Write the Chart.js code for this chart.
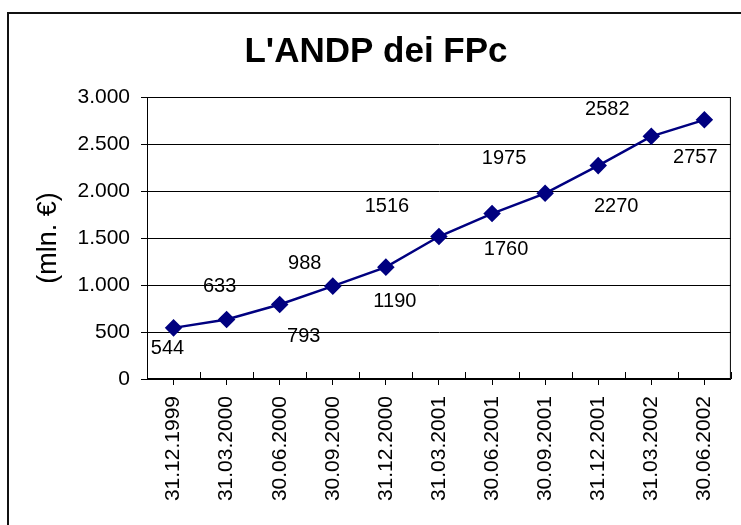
<!DOCTYPE html>
<html>
<head>
<meta charset="utf-8">
<script src="https://cdn.jsdelivr.net/npm/chart.js@4.4.1/dist/chart.umd.min.js"></script>
<style>
  html, body { margin: 0; padding: 0; background: #fff; }
  #wrap { width: 741px; height: 525px; position: relative; }
</style>
</head>
<body>
<div id="wrap"><canvas id="andpChart"></canvas></div>
<script>
// Dati
const dates = ['31.12.1999', '31.03.2000', '30.06.2000', '30.09.2000', '31.12.2000', '31.03.2001',
               '30.06.2001', '30.09.2001', '31.12.2001', '31.03.2002', '30.06.2002'];
const andp = [544, 633, 793, 988, 1190, 1516, 1760, 1975, 2270, 2582, 2757];
const yMin = 0;
const yMax = 3000;
const yStep = 500;

// where each value label sits relative to its marker (px), as in the original
const labelShift = [[-6, 21], [-7, -33], [24, 32], [-28, -23], [9, 34], [-52, -30],
                    [14, 36], [-41, -35], [18, 41], [-44, -27], [-9, 38]];

const FONT = "'Liberation Sans', Arial, sans-serif";
const NAVY = '#000080';

function fmtThousands(v) {
    return String(v).replace(/\B(?=(\d{3})+(?!\d))/g, '.');
}

const decor = {
    id: 'decor',
    beforeDatasetsDraw(chart) {
        const {ctx, chartArea: a, scales: {x}} = chart;
        ctx.save();
        ctx.strokeStyle = '#000';
        ctx.lineWidth = 1;
        ctx.strokeRect(a.left + 0.5, a.top + 0.5, a.width - 1, a.height - 1);
        // small ticks between categories, pointing up into the plot
        ctx.beginPath();
        for (let i = 0; i <= dates.length; i++) {
            const px = Math.round(x.getPixelForValue(i - 0.5)) + 0.5;
            ctx.moveTo(px, a.bottom);
            ctx.lineTo(px, a.bottom - 7);
        }
        ctx.stroke();
        ctx.restore();
    },
    afterDatasetsDraw(chart) {
        const {ctx} = chart;
        const meta = chart.getDatasetMeta(0);
        ctx.save();
        ctx.fillStyle = '#000';
        ctx.font = '20px ' + FONT;
        ctx.textAlign = 'center';
        ctx.textBaseline = 'middle';
        meta.data.forEach((pt, i) => {
            const s = labelShift[i] || [0, -20];
            ctx.fillText(String(andp[i]), pt.x + s[0], pt.y + s[1]);
        });
        ctx.restore();
    },
    afterDraw(chart) {
        // outer chart frame (top and left edges visible)
        const {ctx} = chart;
        ctx.save();
        ctx.strokeStyle = '#111';
        ctx.lineWidth = 2;
        ctx.strokeRect(8, 13, 800, 600);
        ctx.restore();
    }
};

const ctx = document.getElementById('andpChart').getContext('2d');
new Chart(ctx, {
    type: 'line',
    data: {
        labels: dates,
        datasets: [{
            label: 'ANDP',
            data: andp,
            borderColor: NAVY,
            backgroundColor: NAVY,
            borderWidth: 2.5,
            pointStyle: 'rectRot',
            pointRadius: 7,
            pointHoverRadius: 7,
            pointBackgroundColor: NAVY,
            pointBorderColor: NAVY,
            tension: 0,
            fill: false
        }]
    },
    options: {
        responsive: true,
        maintainAspectRatio: false,
        animation: false,
        layout: {
            padding: { left: 20, right: 9, top: 0, bottom: 0 }
        },
        plugins: {
            legend: { display: false },
            tooltip: { enabled: false },
            title: {
                display: true,
                text: "L'ANDP dei FPc",
                color: '#000',
                font: { family: FONT, size: 35, weight: 'bold' },
                padding: { top: 31, bottom: 24 }
            }
        },
        scales: {
            x: {
                offset: true,
                afterFit: (s) => { s.height = 146; },
                grid: {
                    display: true,
                    offset: false,
                    drawOnChartArea: false,
                    tickLength: 6,
                    color: '#000'
                },
                border: { color: '#000', width: 1 },
                ticks: {
                    color: '#000',
                    font: { family: FONT, size: 21 },
                    minRotation: 90,
                    maxRotation: 90,
                    padding: 11,
                    autoSkip: false
                }
            },
            y: {
                min: yMin,
                max: yMax,
                afterFit: (s) => { s.width = 127; },
                grid: {
                    color: '#000',
                    tickLength: 6
                },
                border: { color: '#000', width: 1 },
                ticks: {
                    stepSize: yStep,
                    color: '#000',
                    font: { family: FONT, size: 21 },
                    padding: 11,
                    callback: (v) => fmtThousands(v)
                },
                title: {
                    display: true,
                    text: '(mln. €)',
                    color: '#000',
                    font: { family: FONT, size: 27 },
                    padding: { top: 12, bottom: 0 }
                }
            }
        }
    },
    plugins: [decor]
});
</script>
</body>
</html>
